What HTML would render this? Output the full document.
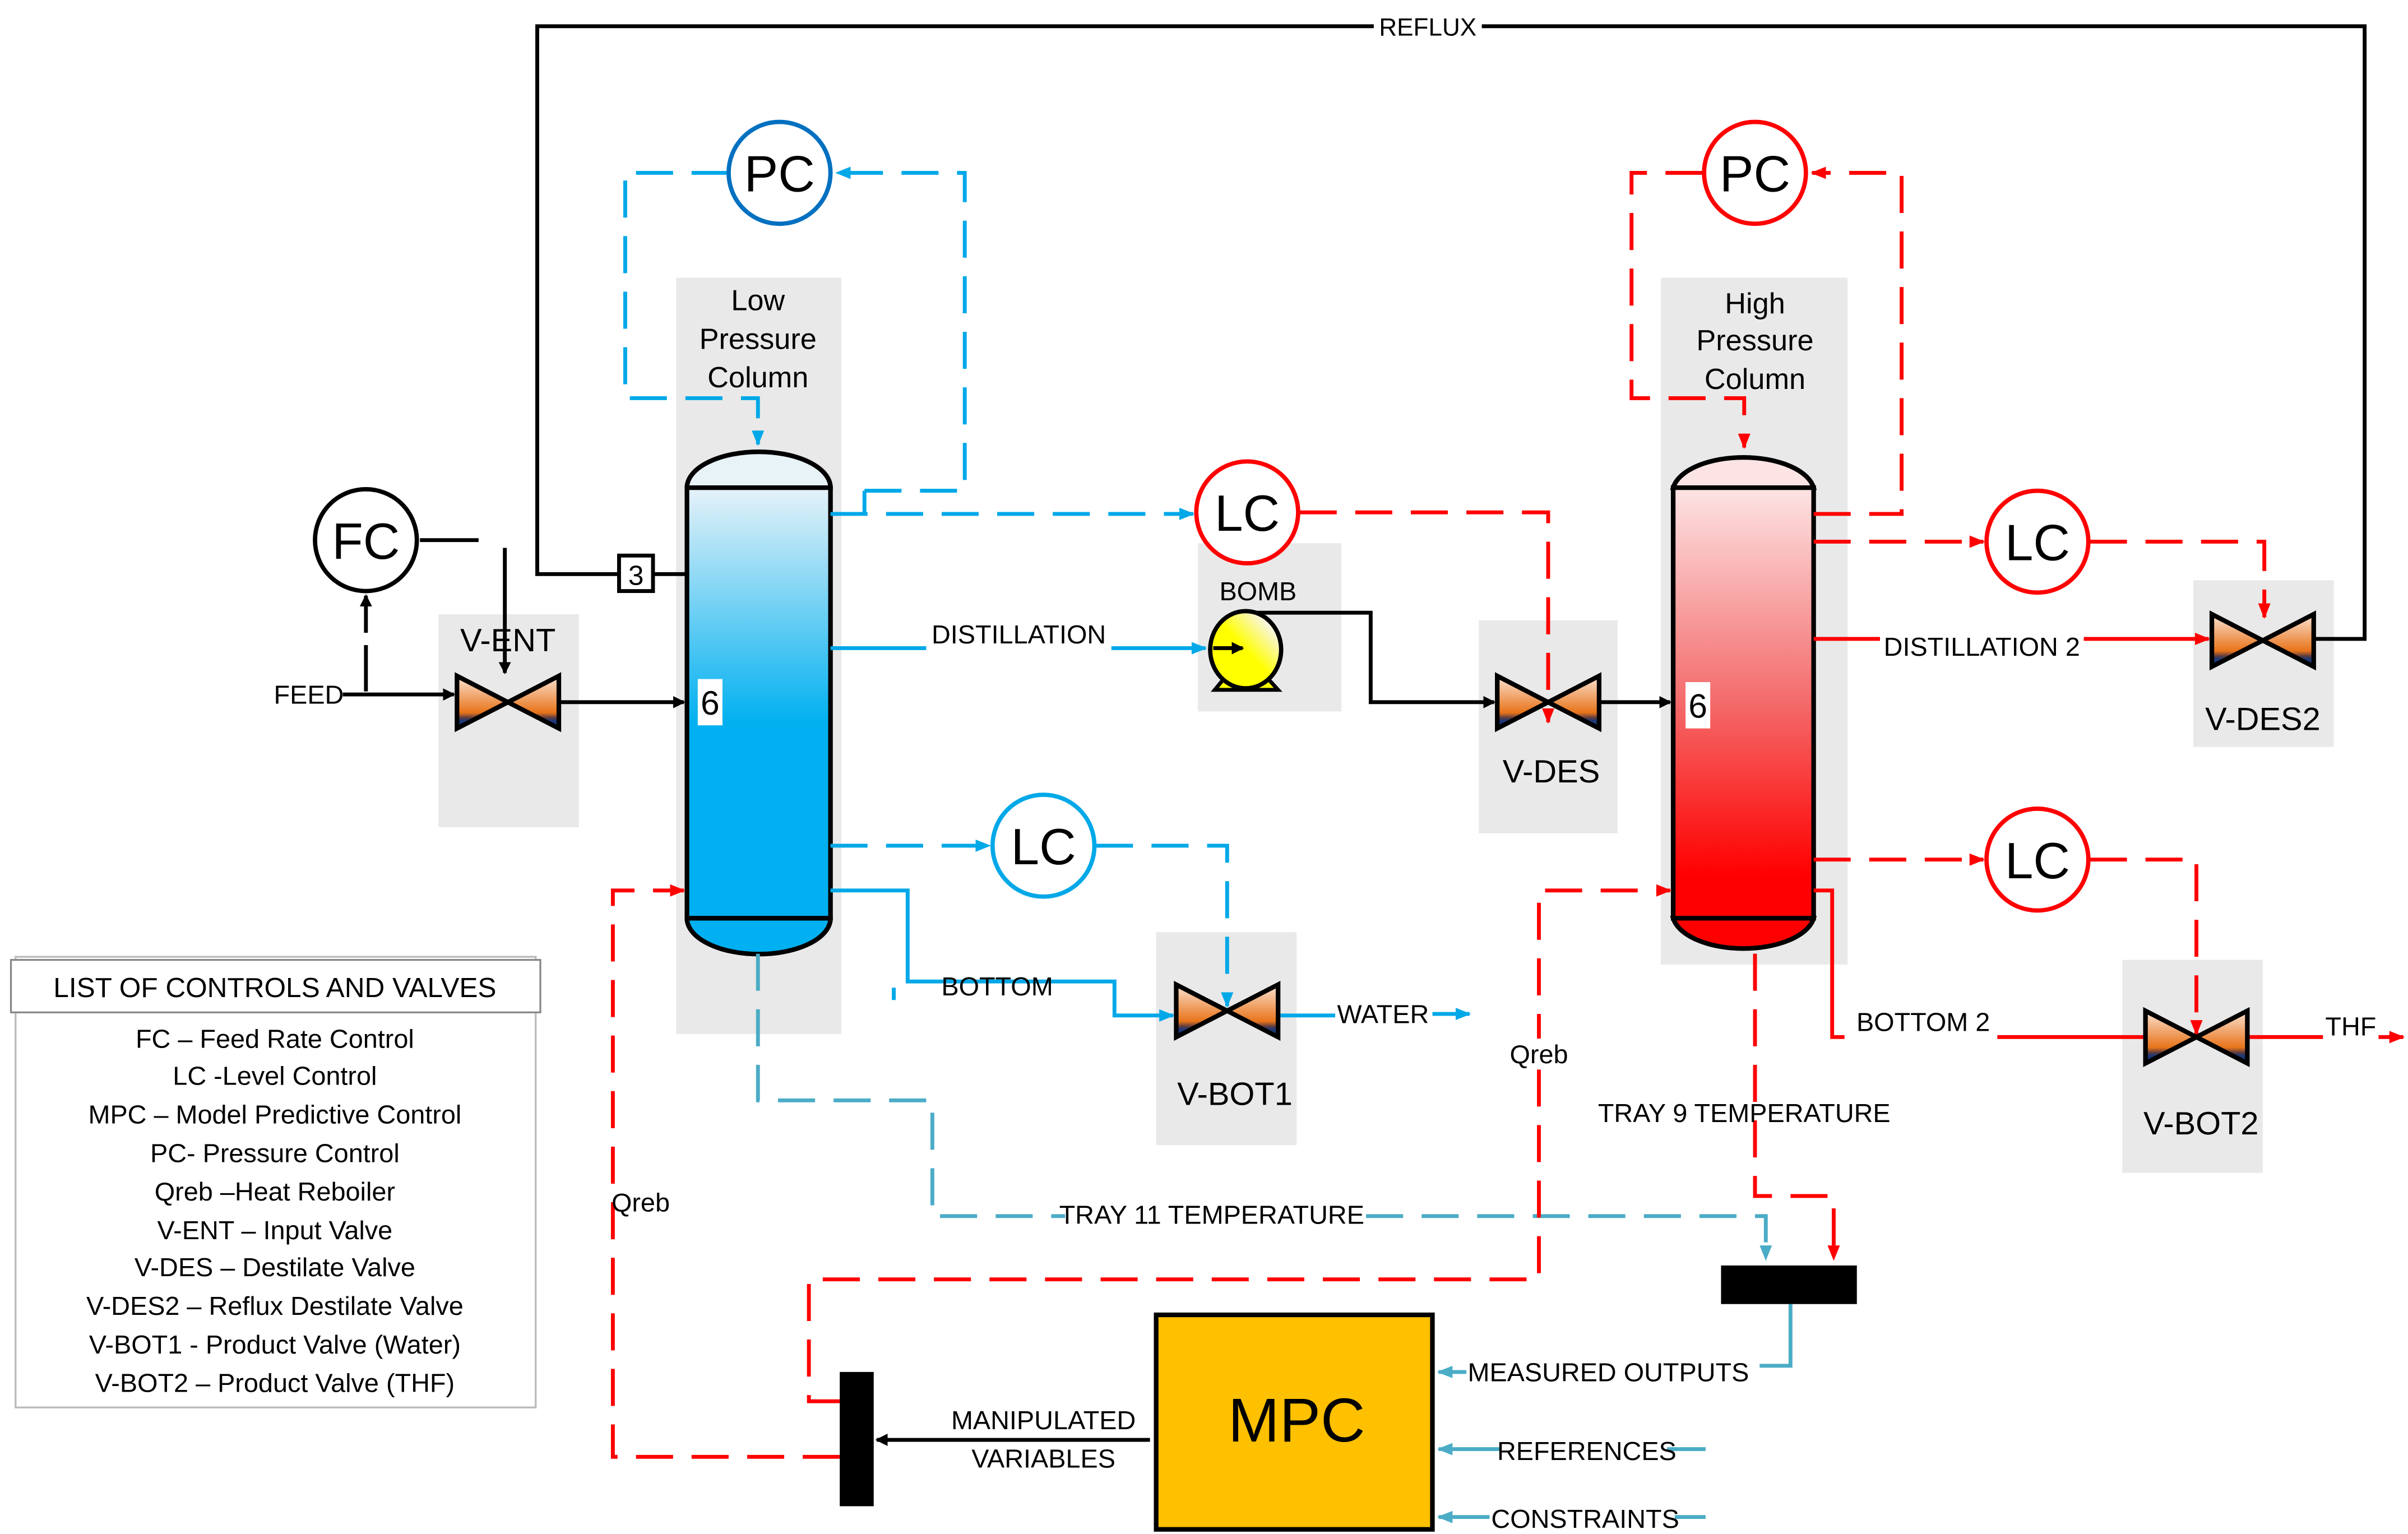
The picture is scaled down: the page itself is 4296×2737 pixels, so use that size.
<!DOCTYPE html>
<html><head><meta charset="utf-8"><style>
html,body{margin:0;padding:0;background:#fff}
svg{display:block}
text{font-family:"Liberation Sans",sans-serif}
</style></head><body>
<svg width="4296" height="2737" viewBox="0 0 1560 994" xmlns="http://www.w3.org/2000/svg">
<defs>
<linearGradient id="gv" x1="0" y1="0" x2="0" y2="1">
<stop offset="0" stop-color="#fbe3d3"/><stop offset="0.7" stop-color="#e8741a"/><stop offset="0.8" stop-color="#5a3a40"/><stop offset="0.85" stop-color="#1f3a78"/><stop offset="1" stop-color="#0f2a60"/></linearGradient>
<linearGradient id="gb" x1="0" y1="0" x2="0" y2="1">
<stop offset="0" stop-color="#e6f2f8"/><stop offset="0.55" stop-color="#00b0f0"/><stop offset="1" stop-color="#00b0f0"/></linearGradient>
<linearGradient id="gr" x1="0" y1="0" x2="0" y2="1">
<stop offset="0" stop-color="#fde4e4"/><stop offset="0.5" stop-color="#f46a6a"/><stop offset="0.9" stop-color="#ff0000"/><stop offset="1" stop-color="#ff0000"/></linearGradient>
<linearGradient id="gp" x1="0" y1="1" x2="1" y2="0">
<stop offset="0.5" stop-color="#ffff00"/><stop offset="0.85" stop-color="#f8f4f2"/></linearGradient>
<marker id="ak" markerWidth="8" markerHeight="8" refX="7" refY="4" orient="auto" markerUnits="userSpaceOnUse"><path d="M0,0 L8,4 L0,8z" fill="#000"/></marker>
<marker id="ab" markerWidth="10" markerHeight="8" refX="9" refY="4" orient="auto" markerUnits="userSpaceOnUse"><path d="M0,0 L10,4 L0,8z" fill="#00a8e8"/></marker>
<marker id="al" markerWidth="10" markerHeight="8" refX="9" refY="4" orient="auto" markerUnits="userSpaceOnUse"><path d="M0,0 L10,4 L0,8z" fill="#4bacc6"/></marker>
<marker id="ar" markerWidth="10" markerHeight="8" refX="9" refY="4" orient="auto" markerUnits="userSpaceOnUse"><path d="M0,0 L10,4 L0,8z" fill="#ff0000"/></marker>
<g id="valve"><polygon points="-33,-17 -33,17 0,0" fill="url(#gv)" stroke="#000" stroke-width="3" stroke-linejoin="miter"/><polygon points="33,-17 33,17 0,0" fill="url(#gv)" stroke="#000" stroke-width="3"/></g>
</defs>

<!-- grey backgrounds -->
<g fill="#e9e9e9">
<rect x="438" y="180" width="107" height="490"/>
<rect x="1076" y="180" width="121" height="445"/>
<rect x="284" y="398" width="91" height="138"/>
<rect x="776" y="352" width="93" height="109"/>
<rect x="958" y="402" width="90" height="138"/>
<rect x="1421" y="376" width="91" height="108"/>
<rect x="749" y="604" width="91" height="138"/>
<rect x="1375" y="622" width="91" height="138"/>
</g>

<!-- reflux -->
<polyline points="401,372 348,372 348,17 1532,17 1532,414 1500,414" fill="none" stroke="#000" stroke-width="2.5"/>
<rect x="890" y="8" width="70" height="18" fill="#fff"/>
<text x="925" y="23" font-size="16" text-anchor="middle">REFLUX</text>
<line x1="423" y1="372" x2="445" y2="372" stroke="#000" stroke-width="2.5"/>
<rect x="401" y="360" width="22" height="23" fill="#fff" stroke="#000" stroke-width="2.5"/>
<text x="412" y="379" font-size="18" text-anchor="middle">3</text>

<!-- columns -->
<path d="M445,316 A46,23 0 0 1 538,316 Z" fill="#e8f3f8" stroke="#000" stroke-width="3"/>
<rect x="445" y="316" width="93" height="279" fill="url(#gb)" stroke="#000" stroke-width="3"/>
<path d="M445,595 A46,23 0 0 0 538,595 Z" fill="#00b0f0" stroke="#000" stroke-width="3"/>
<rect x="452" y="440" width="16" height="30" fill="#fff"/>
<text x="460" y="463" font-size="22" text-anchor="middle">6</text>
<g font-size="19" text-anchor="middle"><text x="491" y="201">Low</text><text x="491" y="226">Pressure</text><text x="491" y="251">Column</text></g>

<path d="M1084,316 A46,23 0 0 1 1175,316 Z" fill="#fde4e4" stroke="#000" stroke-width="3"/>
<rect x="1084" y="316" width="91" height="279" fill="url(#gr)" stroke="#000" stroke-width="3"/>
<path d="M1084,595 A46,23 0 0 0 1175,595 Z" fill="#ff0000" stroke="#000" stroke-width="3"/>
<rect x="1092" y="442" width="16" height="30" fill="#fff"/>
<text x="1100" y="465" font-size="22" text-anchor="middle">6</text>
<g font-size="19" text-anchor="middle"><text x="1137" y="203">High</text><text x="1137" y="227">Pressure</text><text x="1137" y="252">Column</text></g>

<!-- blue dashed control -->
<g fill="none" stroke="#00a8e8" stroke-width="2.5" stroke-dasharray="24,12">
<polyline points="472,112 405,112 405,258 491,258 491,288" marker-end="url(#ab)"/>
<polyline points="560,318 625,318 625,112 542,112" marker-end="url(#ab)"/>
<polyline points="538,333 773,333" marker-end="url(#ab)"/>
<polyline points="538,548 641,548" marker-end="url(#ab)"/>
<polyline points="710,548 795,548 795,652" marker-end="url(#ab)"/>
</g>
<line x1="560" y1="318" x2="560" y2="333" stroke="#00a8e8" stroke-width="2.5"/>
<line x1="579" y1="640" x2="579" y2="648" stroke="#00a8e8" stroke-width="2.5"/>
<!-- blue solid -->
<g fill="none" stroke="#00a8e8" stroke-width="2.5">
<polyline points="538,420 600,420"/>
<polyline points="720,420 781,420" marker-end="url(#ab)"/>
<polyline points="538,577 588,577 588,636 722,636 722,658 760,658" marker-end="url(#ab)"/>
<polyline points="829,658 865,658"/>
<polyline points="928,657 952,657" marker-end="url(#ab)"/>
</g>
<text x="660" y="417" font-size="17" text-anchor="middle">DISTILLATION</text>
<text x="646" y="645" font-size="17" text-anchor="middle">BOTTOM</text>
<text x="896" y="663" font-size="17" text-anchor="middle">WATER</text>

<!-- tray temps -->
<g fill="none" stroke="#4bacc6" stroke-width="2.5" stroke-dasharray="24,12">
<polyline points="491,618 491,713 604,713 604,788 690,788"/>
<polyline points="885,788 1144,788 1144,816" marker-end="url(#al)"/>
</g>
<text x="785" y="793" font-size="17" text-anchor="middle">TRAY 11 TEMPERATURE</text>
<g fill="none" stroke="#ff0000" stroke-width="2.5" stroke-dasharray="24,12">
<polyline points="1137,618 1137,775 1188,775 1188,816" marker-end="url(#ar)"/>
</g>
<text x="1130" y="727" font-size="17" text-anchor="middle">TRAY 9 TEMPERATURE</text>

<!-- red dashed control -->
<g fill="none" stroke="#ff0000" stroke-width="2.5" stroke-dasharray="24,12">
<polyline points="842,332 1003,332 1003,468" marker-end="url(#ar)"/>
<polyline points="1103,112 1057,112 1057,258 1130,258 1130,290" marker-end="url(#ar)"/>
<polyline points="1175,333 1232,333 1232,112 1174,112" marker-end="url(#ar)"/>
<polyline points="1175,351 1285,351" marker-end="url(#ar)"/>
<polyline points="1354,351 1467,351 1467,400" marker-end="url(#ar)"/>
<polyline points="1175,557 1285,557" marker-end="url(#ar)"/>
<polyline points="1354,557 1423,557 1423,670" marker-end="url(#ar)"/>
<polyline points="544,908 524,908 524,829 997,829 997,577 1082,577" marker-end="url(#ar)"/>
<polyline points="544,944 397,944 397,577 443,577" marker-end="url(#ar)"/>
</g>
<rect x="975" y="673" width="44" height="20" fill="#fff"/>
<text x="997" y="689" font-size="17" text-anchor="middle">Qreb</text>
<text x="415" y="785" font-size="17" text-anchor="middle">Qreb</text>

<!-- red solid -->
<g fill="none" stroke="#ff0000" stroke-width="2.5">
<polyline points="1175,414 1218,414"/>
<polyline points="1350,414 1431,414" marker-end="url(#ar)"/>
<polyline points="1175,577 1187,577 1187,672 1195,672"/>
<polyline points="1294,672 1390,672"/>
<polyline points="1456,672 1557,672" marker-end="url(#ar)"/>
</g>
<text x="1284" y="425" font-size="17" text-anchor="middle">DISTILLATION 2</text>
<text x="1246" y="668" font-size="17" text-anchor="middle">BOTTOM 2</text>
<rect x="1505" y="656" width="36" height="18" fill="#fff"/>
<text x="1523" y="671" font-size="17" text-anchor="middle">THF</text>

<!-- controllers -->
<g fill="#fff" stroke-width="2.8">
<circle cx="505" cy="112" r="33" stroke="#0070c0"/>
<circle cx="808" cy="332" r="33" stroke="#ff0000"/>
<circle cx="676" cy="548" r="33" stroke="#00a8e8"/>
<circle cx="1137" cy="112" r="33" stroke="#ff0000"/>
<circle cx="1320" cy="351" r="33" stroke="#ff0000"/>
<circle cx="1320" cy="557" r="33" stroke="#ff0000"/>
<circle cx="237" cy="350" r="33" stroke="#000"/>
</g>
<g font-size="33" text-anchor="middle">
<text x="505" y="124">PC</text><text x="808" y="344">LC</text><text x="676" y="560">LC</text>
<text x="1137" y="124">PC</text><text x="1320" y="363">LC</text><text x="1320" y="569">LC</text>
<text x="237" y="362">FC</text>
</g>

<!-- FC / feed -->
<g fill="none" stroke="#000" stroke-width="2.5">
<line x1="272" y1="350" x2="310" y2="350"/>
<polyline points="327,355 327,436" marker-end="url(#ak)"/>
<polyline points="222,450 294,450" marker-end="url(#ak)"/>
<polyline points="237,448 237,418"/>
<polyline points="237,410 237,386" marker-end="url(#ak)"/>
<polyline points="362,455 443,455" marker-end="url(#ak)"/>
<polyline points="810,397 888,397 888,455 968,455" marker-end="url(#ak)"/>
<polyline points="1036,455 1082,455" marker-end="url(#ak)"/>
</g>
<text x="200" y="456" font-size="17" text-anchor="middle">FEED</text>
<text x="329" y="422" font-size="21" text-anchor="middle">V-ENT</text>

<!-- valves -->
<use href="#valve" x="329" y="455"/>
<use href="#valve" x="1003" y="455"/>
<use href="#valve" x="1466" y="415"/>
<use href="#valve" x="795" y="655"/>
<use href="#valve" x="1423" y="672"/>
<g font-size="21" text-anchor="middle">
<text x="1005" y="507">V-DES</text><text x="1466" y="473">V-DES2</text>
<text x="800" y="716">V-BOT1</text><text x="1426" y="735">V-BOT2</text>
</g>

<!-- pump -->
<text x="815" y="389" font-size="17" text-anchor="middle">BOMB</text>
<polygon points="787,447 796,436 818,436 828,447" fill="#ffff00" stroke="#000" stroke-width="2.5"/>
<ellipse cx="807" cy="421" rx="23" ry="25" fill="url(#gp)" stroke="#000" stroke-width="2.8"/>
<line x1="786" y1="420" x2="805" y2="420" stroke="#000" stroke-width="2.5" marker-end="url(#ak)"/>

<!-- MPC section -->
<rect x="1115" y="820" width="88" height="25" fill="#000"/>
<rect x="544" y="889" width="22" height="87" fill="#000"/>
<rect x="749" y="852" width="179" height="139" fill="#ffc000" stroke="#000" stroke-width="3"/>
<text x="840" y="934" font-size="40" text-anchor="middle">MPC</text>
<g fill="none" stroke="#4bacc6" stroke-width="2.5">
<polyline points="1160,845 1160,885 1140,885"/>
<polyline points="950,889 932,889" marker-end="url(#al)"/>
<polyline points="1105,939 1080,939"/>
<polyline points="972,939 932,939" marker-end="url(#al)"/>
<polyline points="1105,983 1085,983"/>
<polyline points="965,983 932,983" marker-end="url(#al)"/>
</g>
<g font-size="17" text-anchor="middle">
<text x="1042" y="895">MEASURED OUTPUTS</text>
<text x="1028" y="946">REFERENCES</text>
<text x="1027" y="990">CONSTRAINTS</text>
<text x="676" y="926">MANIPULATED</text>
<text x="676" y="951">VARIABLES</text>
</g>
<polyline points="745,933 568,933" fill="none" stroke="#000" stroke-width="2.5" marker-end="url(#ak)"/>

<!-- legend -->
<rect x="10" y="620" width="337" height="292" fill="#fff" stroke="#bbb" stroke-width="1.2"/>
<rect x="7" y="622" width="343" height="34" fill="#fff" stroke="#888" stroke-width="1.2"/>
<text x="178" y="646" font-size="18" text-anchor="middle">LIST OF CONTROLS AND VALVES</text>
<g font-size="17" text-anchor="middle">
<text x="178" y="679">FC – Feed Rate Control</text>
<text x="178" y="703">LC -Level Control</text>
<text x="178" y="728">MPC – Model Predictive Control</text>
<text x="178" y="753">PC- Pressure Control</text>
<text x="178" y="778">Qreb –Heat Reboiler</text>
<text x="178" y="803">V-ENT – Input Valve</text>
<text x="178" y="827">V-DES – Destilate Valve</text>
<text x="178" y="852">V-DES2 – Reflux Destilate Valve</text>
<text x="178" y="877">V-BOT1  - Product Valve (Water)</text>
<text x="178" y="902">V-BOT2 – Product Valve (THF)</text>
</g>
</svg>
</body></html>
